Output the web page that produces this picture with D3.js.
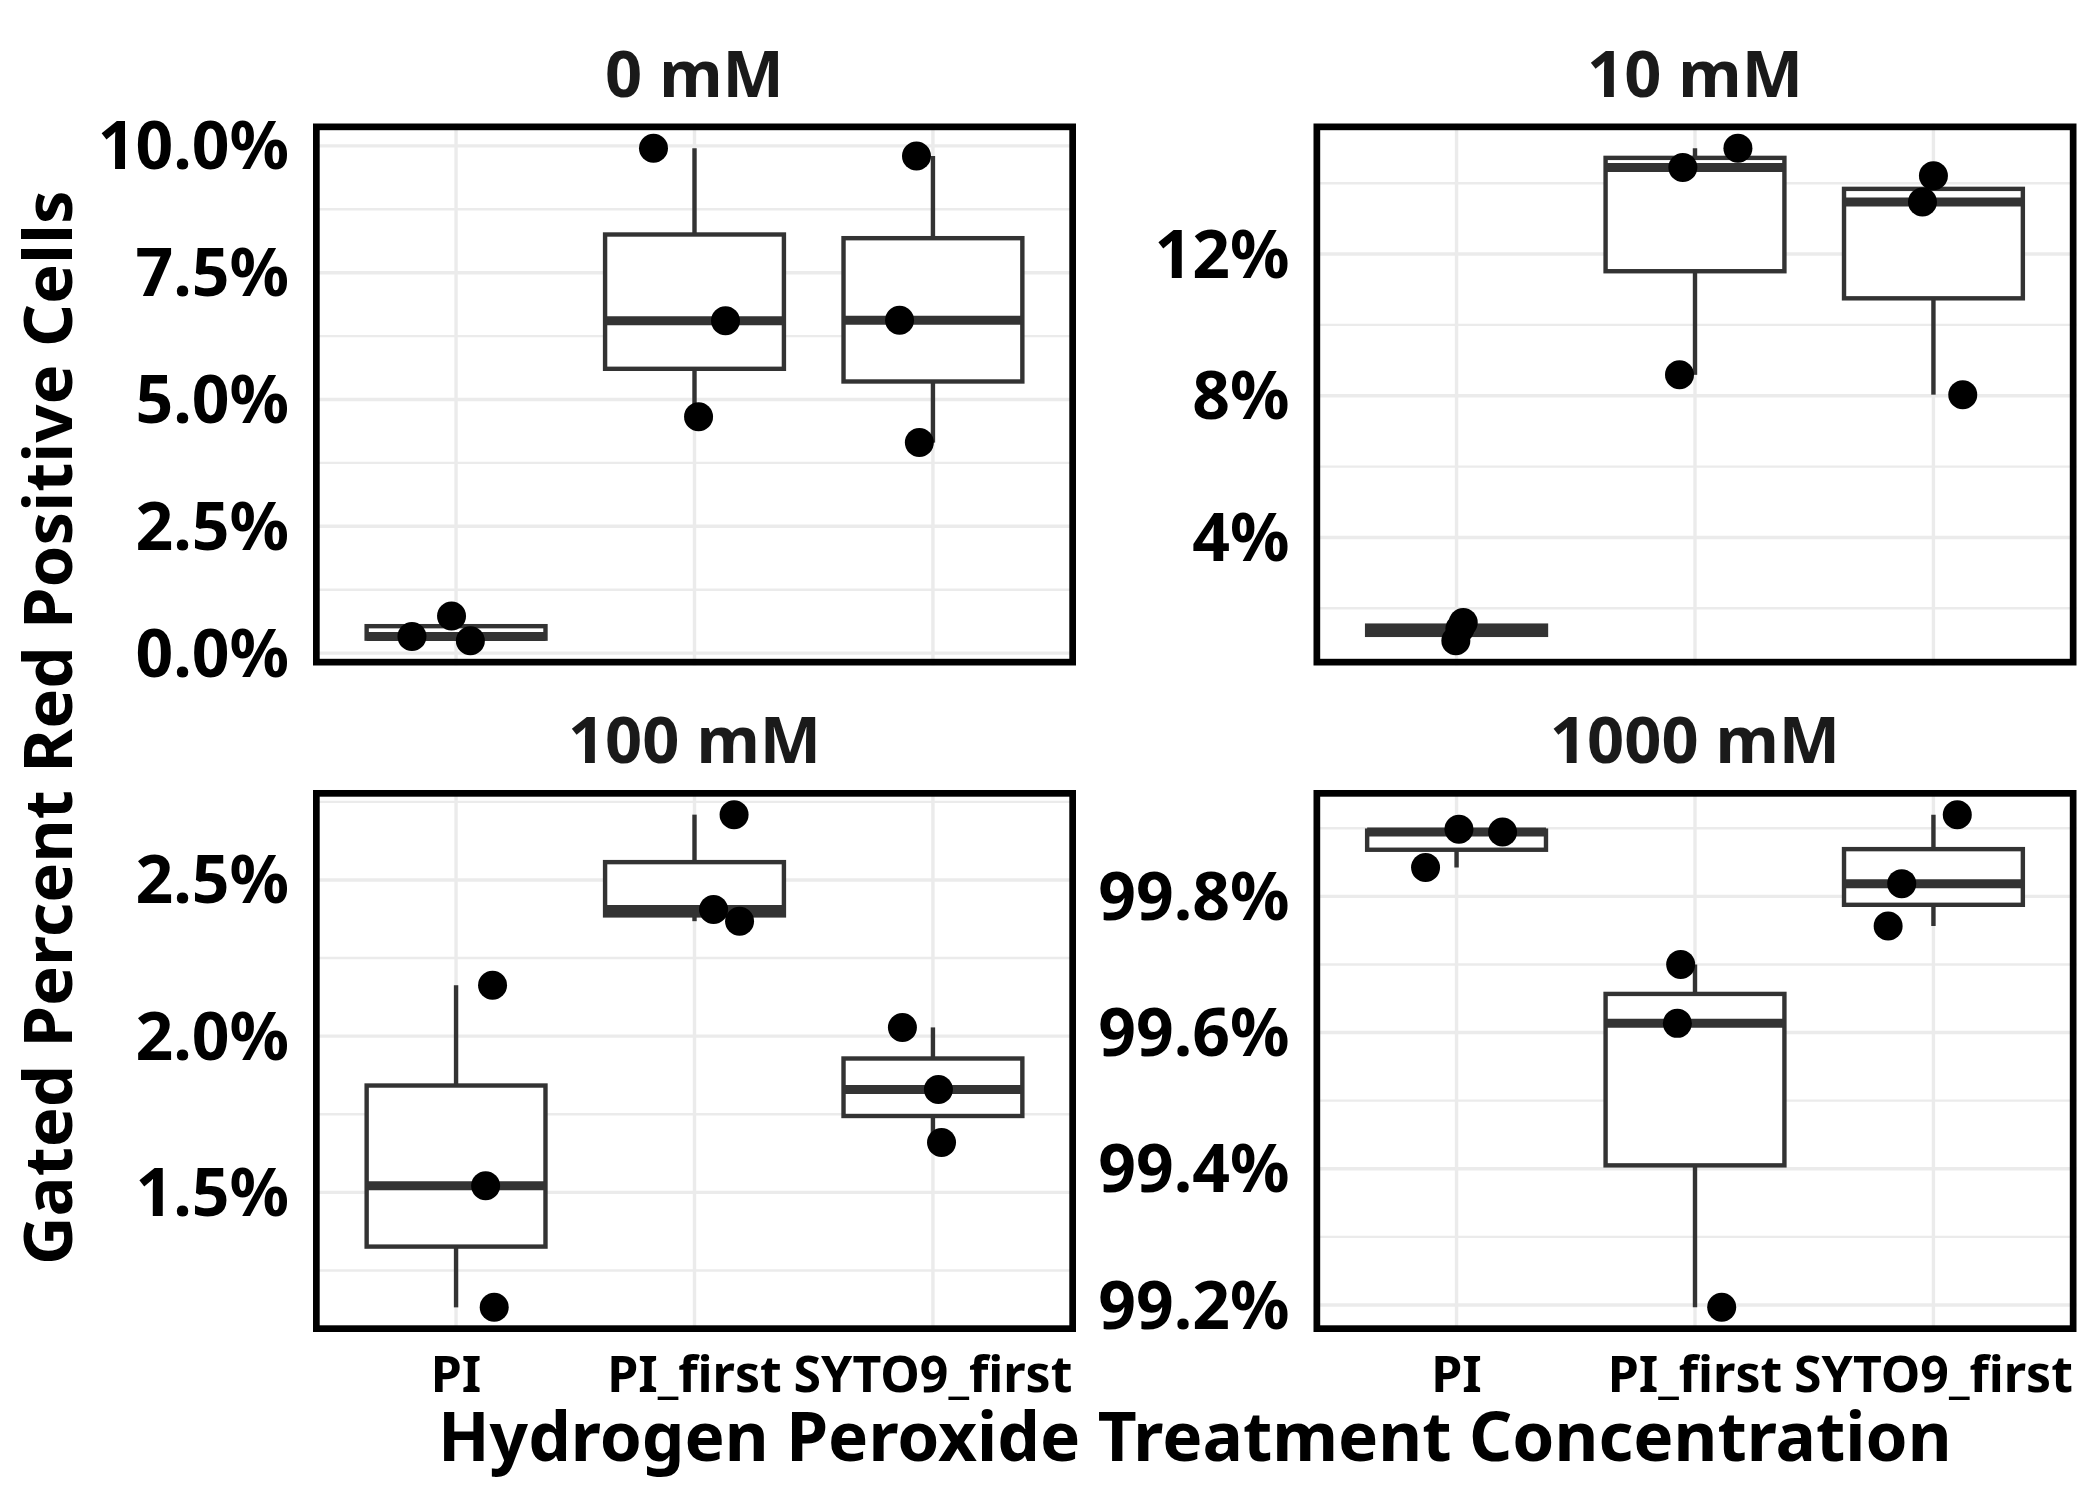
<!DOCTYPE html>
<html>
<head>
<meta charset="utf-8">
<script src="https://cdn.jsdelivr.net/npm/d3@7"></script>
<style>
  html, body { margin: 0; padding: 0; background: #ffffff; }
  svg { display: block; }
  text { font-family: "Noto Sans", "Open Sans", sans-serif; font-weight: bold; }
</style>
</head>
<body>
<svg id="chart" width="2100" height="1500"></svg>
<script>
// ---------------- data ----------------
const panelTitles = ["0 mM", "10 mM", "100 mM", "1000 mM"];
const categories = ["PI", "PI_first", "SYTO9_first"];

// percent values per category (three replicates each)
const values0mM    = [[0.242, 0.329, 0.734], [9.955, 6.55, 4.66], [9.80, 6.56, 4.15]];
const values10mM   = [[1.60, 1.08, 1.42], [14.44, 14.99, 8.59], [14.21, 13.47, 8.03]];
const values100mM  = [[2.163, 1.521, 1.132], [2.709, 2.405, 2.368], [2.028, 1.829, 1.66]];
const values1000mM = [[99.8985, 99.8945, 99.8424], [99.70, 99.6135, 99.1965], [99.92, 99.8187, 99.7565]];

// horizontal jitter of each point (category units)
const jitter0mM    = [[0.060, -0.185, -0.019], [-0.172, 0.130, 0.017], [-0.069, -0.140, -0.057]];
const jitter10mM   = [[0.028, -0.003, 0.014], [-0.051, 0.180, -0.065], [0.000, -0.046, 0.123]];
const jitter100mM  = [[0.153, 0.124, 0.160], [0.166, 0.080, 0.189], [-0.128, 0.023, 0.036]];
const jitter1000mM = [[0.010, 0.193, -0.130], [-0.060, -0.074, 0.112], [0.100, -0.133, -0.190]];

// y-axis ticks per panel
const ticks0mM    = [0, 2.5, 5, 7.5, 10];
const ticks10mM   = [4, 8, 12];
const ticks100mM  = [1.5, 2.0, 2.5];
const ticks1000mM = [99.2, 99.4, 99.6, 99.8];
const tickLabels0mM    = ["0.0%", "2.5%", "5.0%", "7.5%", "10.0%"];
const tickLabels10mM   = ["4%", "8%", "12%"];
const tickLabels100mM  = ["1.5%", "2.0%", "2.5%"];
const tickLabels1000mM = ["99.2%", "99.4%", "99.6%", "99.8%"];

const xTitle = "Hydrogen Peroxide Treatment Concentration";
const yTitle = "Gated Percent Red Positive Cells";

// ---------------- layout ----------------
const panelDefs = [
  { title: panelTitles[0], values: values0mM,    jitter: jitter0mM,    ticks: ticks0mM,    labels: tickLabels0mM,    x0: 313,    y0: 123.5, showX: false },
  { title: panelTitles[1], values: values10mM,   jitter: jitter10mM,   ticks: ticks10mM,   labels: tickLabels10mM,   x0: 1313.5, y0: 123.5, showX: false },
  { title: panelTitles[2], values: values100mM,  jitter: jitter100mM,  ticks: ticks100mM,  labels: tickLabels100mM,  x0: 313,    y0: 790,   showX: true },
  { title: panelTitles[3], values: values1000mM, jitter: jitter1000mM, ticks: ticks1000mM, labels: tickLabels1000mM, x0: 1313.5, y0: 790,   showX: true }
];
const PW = 763, PH = 542;

const svg = d3.select("#chart");

const boxStroke = "#333333";
const boxLW = 4.4, medianLW = 9;
const gridCol = "#EBEBEB";

panelDefs.forEach(p => {
  const all = p.values.flat();
  const lo = d3.min(all), hi = d3.max(all);
  const pad = (hi - lo) * 0.05;
  const y = d3.scaleLinear().domain([lo - pad, hi + pad]).range([p.y0 + PH, p.y0]);
  // discrete x with ggplot expansion 0.6
  const xc = d3.scaleLinear().domain([-0.6, categories.length - 1 + 0.6]).range([p.x0, p.x0 + PW]);
  const unit = xc(1) - xc(0);

  const g = svg.append("g");
  const clipId = "clip" + p.title.replace(/\s/g, "");
  svg.append("clipPath").attr("id", clipId).append("rect")
    .attr("x", p.x0).attr("y", p.y0).attr("width", PW).attr("height", PH);
  const inner = g.append("g").attr("clip-path", `url(#${clipId})`);

  // minor grid
  const step = p.ticks[1] - p.ticks[0];
  const minors = [];
  for (let v = p.ticks[0] - step / 2; v <= p.ticks[p.ticks.length - 1] + step; v += step) {
    if (v >= y.domain()[0] && v <= y.domain()[1]) minors.push(v);
  }
  inner.selectAll(".minor").data(minors).enter().append("line")
    .attr("x1", p.x0).attr("x2", p.x0 + PW)
    .attr("y1", d => y(d)).attr("y2", d => y(d))
    .attr("stroke", gridCol).attr("stroke-width", 2.4);
  // major grid
  inner.selectAll(".major").data(p.ticks).enter().append("line")
    .attr("x1", p.x0).attr("x2", p.x0 + PW)
    .attr("y1", d => y(d)).attr("y2", d => y(d))
    .attr("stroke", gridCol).attr("stroke-width", 3.4);
  inner.selectAll(".vmajor").data(categories).enter().append("line")
    .attr("x1", (d, i) => xc(i)).attr("x2", (d, i) => xc(i))
    .attr("y1", p.y0).attr("y2", p.y0 + PH)
    .attr("stroke", gridCol).attr("stroke-width", 3.4);

  // boxplots
  p.values.forEach((vals, i) => {
    const s = vals.slice().sort(d3.ascending);
    const q1 = d3.quantile(s, 0.25), med = d3.quantile(s, 0.5), q3 = d3.quantile(s, 0.75);
    const iqr = q3 - q1;
    const wLo = d3.min(s.filter(v => v >= q1 - 1.5 * iqr));
    const wHi = d3.max(s.filter(v => v <= q3 + 1.5 * iqr));
    const cx = xc(i), half = unit * 0.375;
    inner.append("line").attr("x1", cx).attr("x2", cx).attr("y1", y(q3)).attr("y2", y(wHi))
      .attr("stroke", boxStroke).attr("stroke-width", boxLW);
    inner.append("line").attr("x1", cx).attr("x2", cx).attr("y1", y(q1)).attr("y2", y(wLo))
      .attr("stroke", boxStroke).attr("stroke-width", boxLW);
    inner.append("rect").attr("x", cx - half).attr("width", half * 2)
      .attr("y", y(q3)).attr("height", y(q1) - y(q3))
      .attr("fill", "#ffffff").attr("stroke", boxStroke).attr("stroke-width", boxLW);
    inner.append("line").attr("x1", cx - half).attr("x2", cx + half).attr("y1", y(med)).attr("y2", y(med))
      .attr("stroke", boxStroke).attr("stroke-width", medianLW);
  });

  // points
  p.values.forEach((vals, i) => {
    vals.forEach((v, k) => {
      inner.append("circle").attr("cx", xc(i + p.jitter[i][k])).attr("cy", y(v)).attr("r", 14.5)
        .attr("fill", "#000000");
    });
  });

  // border (clipped look: inner half visible)
  g.append("rect").attr("x", p.x0 + 3.35).attr("y", p.y0 + 3.35)
    .attr("width", PW - 6.7).attr("height", PH - 6.7)
    .attr("fill", "none").attr("stroke", "#000000").attr("stroke-width", 6.7);

  // y tick labels
  g.selectAll(".ytl").data(p.ticks).enter().append("text")
    .attr("x", p.x0 - 24).attr("y", d => y(d)).attr("dy", "0.357em")
    .attr("text-anchor", "end").attr("font-size", 66).attr("fill", "#000000")
    .text((d, i) => p.labels[i]);

  // x tick labels
  if (p.showX) {
    g.selectAll(".xtl").data(categories).enter().append("text")
      .attr("x", (d, i) => xc(i)).attr("y", p.y0 + PH + 60)
      .attr("text-anchor", "middle").attr("font-size", 50).attr("fill", "#000000")
      .text(d => d);
  }

  // strip title
  g.append("text").attr("x", p.x0 + PW / 2).attr("y", p.y0 - 27)
    .attr("text-anchor", "middle").attr("font-size", 65).attr("fill", "#1a1a1a")
    .text(p.title);
});

// axis titles
svg.append("text").attr("x", (313 + 1313.5 + PW) / 2).attr("y", 1461)
  .attr("text-anchor", "middle").attr("font-size", 67.5).attr("fill", "#000000")
  .text(xTitle);
svg.append("text").attr("transform", `translate(71.5, ${(123.5 + 790 + PH) / 2}) rotate(-90)`)
  .attr("text-anchor", "middle").attr("font-size", 67).attr("fill", "#000000")
  .text(yTitle);
</script>
</body>
</html>
